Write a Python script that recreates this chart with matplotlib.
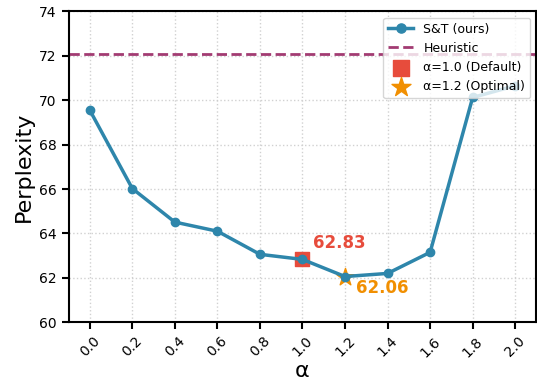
import matplotlib
matplotlib.use("Agg")
import matplotlib.pyplot as plt
import numpy as np

alphas = [0.0, 0.2, 0.4, 0.6, 0.8, 1.0, 1.2, 1.4, 1.6, 1.8, 2.0]
perplexity = [69.55, 66.02, 64.51, 64.10, 63.06, 62.83, 62.06, 62.20, 63.15, 70.12, 70.65]
heuristic = 72.1
default_alpha, default_ppl = 1.0, 62.83
optimal_alpha, optimal_ppl = 1.2, 62.06
xtick_labels = ["0.0", "0.2", "0.4", "0.6", "0.8", "1.0", "1.2", "1.4", "1.6", "1.8", "2.0"]

fig = plt.figure(figsize=(5.37, 3.83), dpi=100)
ax = fig.add_axes([0.1276, 0.1585, 0.8714, 0.8120])

ax.plot(alphas, perplexity, color="#2E86AB", lw=2.5, marker="o", ms=6,
        label="S&T (ours)", zorder=3)
ax.axhline(heuristic, color="#A23B72", ls="--", lw=2, label="Heuristic", zorder=2)
ax.scatter([default_alpha], [default_ppl], marker="s", s=100, color="#E74C3C",
           label="α=1.0 (Default)", zorder=2.5)
ax.scatter([optimal_alpha], [optimal_ppl], marker="*", s=170, color="#F18F01",
           label="α=1.2 (Optimal)", zorder=2.5)

ax.text(1.05, 63.58, f"{default_ppl:.2f}", color="#E74C3C", fontsize=12,
        fontweight="bold", ha="left", va="center")
ax.text(1.25, 61.53, f"{optimal_ppl:.2f}", color="#F18F01", fontsize=12,
        fontweight="bold", ha="left", va="center")

ax.set_xlim(-0.1, 2.1)
ax.set_ylim(60, 74)
ax.set_xticks(alphas)
ax.set_xticklabels(xtick_labels, rotation=45, fontsize=10)
ax.set_yticks(np.arange(60, 75, 2))
ax.tick_params(axis="y", labelsize=10)
ax.tick_params(width=1.5, length=5)
ax.set_xlabel("α", fontsize=16, labelpad=1)
ax.set_ylabel("Perplexity", fontsize=16)
ax.grid(True, ls=":", color="#cccccc", lw=1, alpha=0.9)
for s in ax.spines.values():
    s.set_linewidth(1.5)

ax.legend(loc="upper right", fontsize=9, framealpha=0.8, markerscale=1.1)

fig.savefig("out.png", dpi=100)
